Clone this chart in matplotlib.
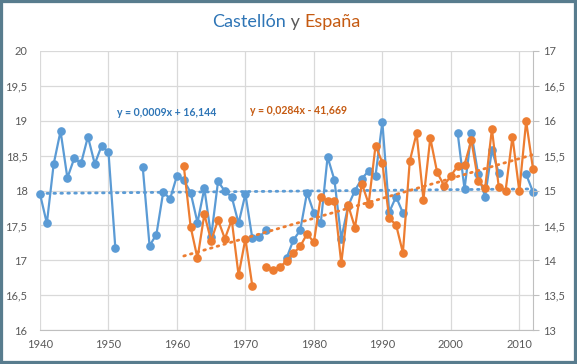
import numpy as np
import matplotlib
matplotlib.use("Agg")
import matplotlib.pyplot as plt
from matplotlib.patches import Rectangle

plt.rcParams['font.family'] = ['Lato', 'DejaVu Sans']

years = list(range(1940, 2013))
nan = np.nan

castellon = [
    17.95, 17.53, 18.38, 18.85, 18.18, 18.46, 18.39, 18.77, 18.38, 18.64,   # 1940-1949
    18.55, 17.18, nan, nan, nan, 18.34, 17.21, 17.37, 17.98, 17.88,          # 1950-1959
    18.21, 18.15, 17.97, 17.54, 18.03, 17.34, 18.13, 17.99, 17.91, 17.53,   # 1960-1969
    17.95, 17.32, 17.33, 17.43, nan, nan, 17.03, 17.29, 17.43, 17.97,       # 1970-1979
    17.68, 17.53, 18.48, 18.15, 17.31, 17.78, 18.00, 18.17, 18.28, 18.21,   # 1980-1989
    18.98, 17.69, 17.91, 17.68, nan, nan, nan, nan, nan, nan,                # 1990-1999
    nan, 18.82, 18.02, 18.82, 18.23, 17.91, 18.58, 18.25, nan, nan,          # 2000-2009
    nan, 18.23, 17.98,                                                       # 2010-2012
]

espana = [
    nan, nan, nan, nan, nan, nan, nan, nan, nan, nan,                        # 1940-1949
    nan, nan, nan, nan, nan, nan, nan, nan, nan, nan,                        # 1950-1959
    nan, 15.35, 14.48, 14.03, 14.66, 14.28, 14.58, 14.31, 14.58, 13.79,     # 1960-1969
    14.31, 13.64, nan, 13.91, 13.86, 13.90, 13.99, 14.10, 14.20, 14.38,     # 1970-1979
    14.26, 14.91, 14.85, 14.85, 13.96, 14.79, 14.47, 15.10, 14.81, 15.64,   # 1980-1989
    15.40, 14.60, 14.51, 14.11, 15.42, 15.82, 14.87, 15.75, 15.26, 15.07,   # 1990-1999
    15.21, 15.35, 15.37, 15.72, 15.13, 15.03, 15.88, 15.05, 15.00, 15.77,   # 2000-2009
    14.99, 15.99, 15.31,                                                     # 2010-2012
]

left_ticks = [16, 16.5, 17, 17.5, 18, 18.5, 19, 19.5, 20]
right_ticks = [13, 13.5, 14, 14.5, 15, 15.5, 16, 16.5, 17]
x_ticks = [1940, 1950, 1960, 1970, 1980, 1990, 2000, 2010]

eq_blue = "y = 0,0009x + 16,144"
eq_orange = "y = 0,0284x - 41,669"

def fmt(v):
    s = ('%g' % v)
    return s.replace('.', ',')

BLUE = '#5B9BD5'
ORANGE = '#ED7D31'
BLUE_T = '#2E75B6'
ORANGE_T = '#C55A11'
GRID = '#D9D9D9'
TXT = '#595959'

fig = plt.figure(figsize=(5.77, 3.64), dpi=100)
ax = fig.add_axes([40/577, 1-330.3/364, (533-40)/577, (330.3-50.7)/364])
ax2 = ax.twinx()

x = np.array(years, dtype=float)
yb = np.array(castellon, dtype=float)
yo = np.array(espana, dtype=float)

ax.plot(x, yb, color=BLUE, lw=1.6, marker='o', ms=5.2, zorder=3, clip_on=False)
ax2.plot(x, yo, color=ORANGE, lw=1.6, marker='o', ms=5.2, zorder=3, clip_on=False)

# trendlines from the data
mb = ~np.isnan(yb)
pb = np.polyfit(x[mb], yb[mb], 1)
xb = np.array([x[mb].min(), x[mb].max()])
ax.plot(xb, np.polyval(pb, xb), color=BLUE, lw=2.0, ls=(0, (0.6, 1.9)),
        dash_capstyle='round', zorder=4)
mo = ~np.isnan(yo)
po = np.polyfit(x[mo], yo[mo], 1)
xo = np.array([x[mo].min(), x[mo].max()])
ax2.plot(xo, np.polyval(po, xo), color=ORANGE, lw=2.0, ls=(0, (0.6, 1.9)),
         dash_capstyle='round', zorder=4)

ax.set_xlim(1940, 2012)
ax.set_ylim(16, 20)
ax2.set_ylim(13, 17)

ax.set_xticks(x_ticks)
ax.set_xticklabels([str(t) for t in x_ticks])
ax.set_yticks(left_ticks)
ax.set_yticklabels([fmt(t) for t in left_ticks])
ax2.set_yticks(right_ticks)
ax2.set_yticklabels([fmt(t) for t in right_ticks])

ax.grid(True, color=GRID, lw=0.9)
ax.set_axisbelow(True)
for a in (ax, ax2):
    for s in a.spines.values():
        s.set_visible(False)
ax2.spines['right'].set_visible(True)
ax2.spines['right'].set_color('#BFBFBF')
ax.spines['bottom'].set_visible(True)
ax.spines['bottom'].set_color('#BFBFBF')

ax.tick_params(axis='both', length=0, labelsize=8, labelcolor=TXT)
ax.tick_params(axis='y', pad=9)
ax.tick_params(axis='x', pad=6)
ax2.tick_params(axis='y', length=4, color='#BFBFBF', labelsize=8, labelcolor=TXT, pad=3)

ax.text(1951.3, 19.12, eq_blue, color=BLUE_T, fontsize=7.6, fontweight='bold',
        ha='left', va='center', zorder=6)
ax.text(1970.6, 19.15, eq_orange, color=ORANGE_T, fontsize=7.6, fontweight='bold',
        ha='left', va='center', zorder=6)

# title in three colours
parts = [("Castellón", BLUE_T), (" y ", '#595959'), ("España", ORANGE_T)]
texts = [fig.text(0, 1-22/364, p, color=c, fontsize=13, ha='left', va='center')
         for p, c in parts]
fig.canvas.draw()
r = fig.canvas.get_renderer()
widths = [t.get_window_extent(r).width for t in texts]
total = sum(widths)
start = 286 - total/2
for t, w in zip(texts, widths):
    t.set_x(start/577)
    start += w

fig.patches.append(Rectangle((0, 0), 1, 1, transform=fig.transFigure, fill=False,
                             edgecolor='#587C8E', lw=4.5))

fig.savefig('out.png', dpi=100)
